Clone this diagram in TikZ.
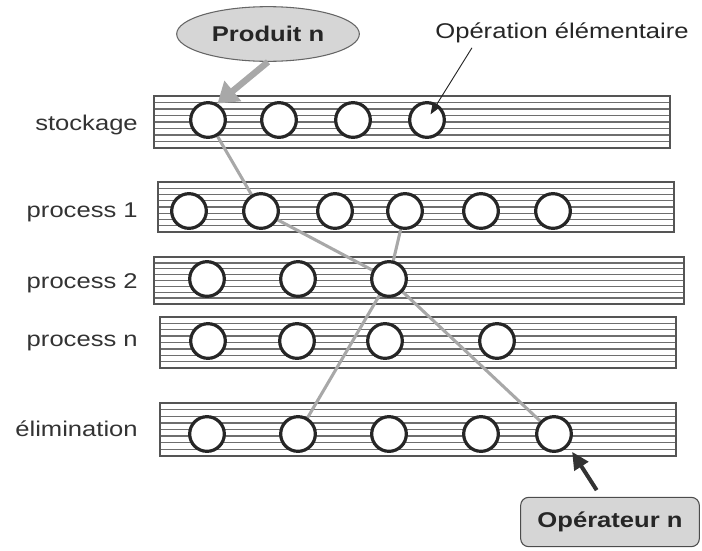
\documentclass[tikz,border=0pt]{standalone}
\usepackage{fontspec}
\setmainfont[FakeStretch=1.2]{Liberation Sans}
\usetikzlibrary{shapes.geometric,arrows.meta,backgrounds}
\definecolor{lanegray}{HTML}{555555}
\definecolor{routegray}{HTML}{a8a8a8}
\definecolor{boxgray}{HTML}{d6d6d6}
\tikzstyle{op}=[circle, minimum size=26pt, inner sep=0, line width=2.4pt, draw=black!85, fill=white]
\tikzstyle{lanelabel}=[anchor=east, inner sep=0, text=black!80, font=\fontsize{16}{18}\selectfont]
\tikzstyle{route}=[routegray, line width=2.3pt]
\tikzstyle{tag}=[text=black!85, font=\bfseries\fontsize{16}{18}\selectfont, fill=boxgray, line width=0.8pt]

\begin{document}
\begin{tikzpicture}[x=0.75pt, y=-0.75pt]
\useasboundingbox (0,0) rectangle (702,550);

\node [lanelabel] (lstock) at (138,125) {stockage};
\node [lanelabel] (lproc1) at (138,212) {process 1};
\node [lanelabel] (lproc2) at (138,283) {process 2};
\node [lanelabel] (lprocn) at (138,343) {process n};
\node [lanelabel] (lelim)  at (138,429) {élimination};

\node [op] (s1) at (208,120) {};
\node [op] (s2) at (279,120) {};
\node [op] (s3) at (353,120) {};
\node [op] (s4) at (427,120) {};

\node [op] (pa1) at (189,211) {};
\node [op] (pa2) at (261,211) {};
\node [op] (pa3) at (335,211) {};
\node [op] (pa4) at (405,211) {};
\node [op] (pa5) at (481,211) {};
\node [op] (pa6) at (553,211) {};

\node [op] (pb1) at (207,279) {};
\node [op] (pb2) at (298,279) {};
\node [op] (pb3) at (389,279) {};

\node [op] (pn1) at (208,341) {};
\node [op] (pn2) at (297,341) {};
\node [op] (pn3) at (385,341) {};
\node [op] (pn4) at (497,341) {};

\node [op] (el1) at (207,434) {};
\node [op] (el2) at (298,434) {};
\node [op] (el3) at (389,434) {};
\node [op] (el4) at (481,434) {};
\node [op] (el5) at (554,434) {};

\begin{scope}[on background layer]
  % striped lanes
  \foreach \l/\r/\t/\b in {154/670/96/148, 158/674/182/232, 154/684/257/304, 160/676/317/368, 160/676/403/456} {
    \foreach \k in {1,...,7}
      \draw [lanegray!85, line width=1.1pt] (\l,{\t+\k*(\b-\t)/8}) -- (\r,{\t+\k*(\b-\t)/8});
    \draw [lanegray, line width=1.1pt] (\l,\t) rectangle (\r,\b);
  }
  % product routes
  \draw [route] (s1.center) -- (pa2.center) -- (pb3.center) -- (el5.center);
  \draw [route] (pa4.center) -- (pb3.center) -- (el2.center);
\end{scope}

\node [tag, ellipse, draw=black!60, minimum width=137pt, minimum height=41pt] (prod) at (268,34) {Produit n};
\node [tag, rectangle, rounded corners=6pt, draw=black!70, minimum width=134pt, minimum height=37pt] (oper) at (610,522) {Opérateur n};
\node [text=black!85, font=\fontsize{16}{18}\selectfont] (opel) at (562,33) {Opération élémentaire};

\draw [routegray, line width=4.8pt, -{Triangle[length=15pt,width=19pt]}] (prod.south) -- (s1.60);
\draw [black!85, line width=0.7pt, -{Triangle[length=8pt,width=6pt]}, shorten >=5pt] ([xshift=31pt]opel.south west) -- (s4.center);
\draw [black!80, line width=3pt, -{Triangle[length=13pt,width=12pt]}, shorten >=5pt] ([shift={(-10pt,5pt)}]oper.north) -- (el5.-40);

\end{tikzpicture}
\end{document}
